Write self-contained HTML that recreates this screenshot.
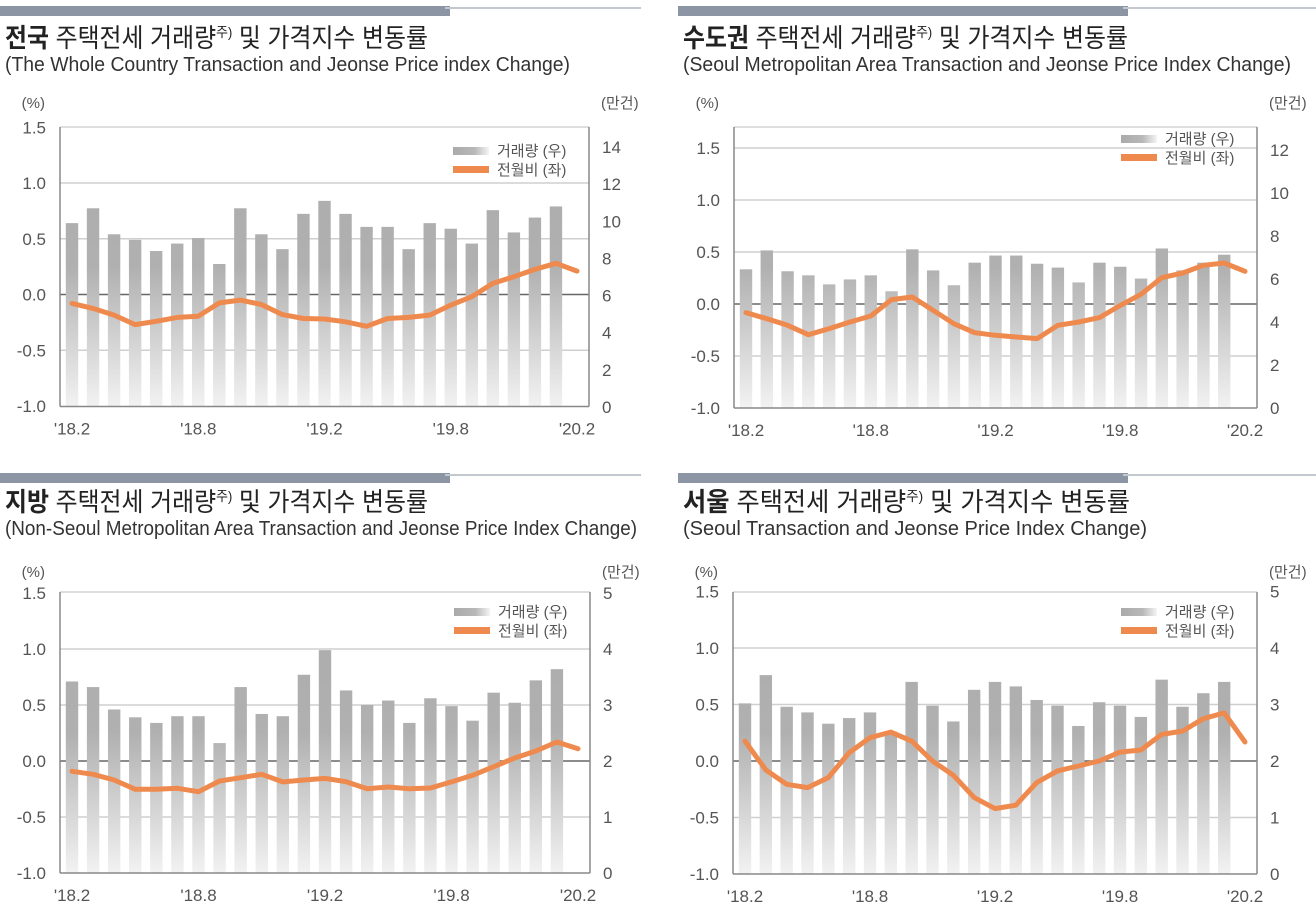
<!DOCTYPE html>
<html><head><meta charset="utf-8">
<style>
html,body{margin:0;padding:0;background:#fff;}
svg{display:block;font-family:"Liberation Sans Narrow","Liberation Sans","Noto Sans CJK KR",sans-serif;}
</style></head>
<body>
<svg id="chart" width="1316" height="923" viewBox="0 0 1316 923" xmlns="http://www.w3.org/2000/svg">
<defs>
<linearGradient id="legGrad" x1="0" x2="1" y1="0" y2="0"><stop offset="0" stop-color="#aaaaaa"/><stop offset="0.6" stop-color="#b8b8b8"/><stop offset="1" stop-color="#f4f4f4"/></linearGradient>
</defs>
</svg>
<script>
// ---- data (25 months '18.2 … '20.2; volume has 24 months) ----
const months = ["'18.2","'18.3","'18.4","'18.5","'18.6","'18.7","'18.8","'18.9","'18.10","'18.11","'18.12","'19.1","'19.2","'19.3","'19.4","'19.5","'19.6","'19.7","'19.8","'19.9","'19.10","'19.11","'19.12","'20.1","'20.2"];
const tickMonths = ["'18.2","'18.8","'19.2","'19.8","'20.2"];
const leftTicks = [1.5,1.0,0.5,0.0,-0.5,-1.0];
const rightTicks1 = [0,2,4,6,8,10,12,14];
const rightTicks2 = [0,2,4,6,8,10,12];
const rightTicks3 = [0,1,2,3,4,5];
const rightTicks4 = [0,1,2,3,4,5];
// volume (만건, right axis)
const volNation = [9.9,10.7,9.3,9.0,8.4,8.8,9.1,7.7,10.7,9.3,8.5,10.4,11.1,10.4,9.7,9.7,8.5,9.9,9.6,8.8,10.6,9.4,10.2,10.8];
const volCapital = [6.45,7.33,6.36,6.17,5.75,5.98,6.17,5.43,7.38,6.40,5.71,6.76,7.09,7.09,6.71,6.53,5.84,6.76,6.57,6.02,7.42,6.40,6.76,7.13];
const volRegion = [3.42,3.32,2.92,2.78,2.68,2.80,2.80,2.32,3.32,2.84,2.80,3.54,3.98,3.26,3.0,3.08,2.68,3.12,2.98,2.72,3.22,3.04,3.44,3.64];
const volSeoul = [3.02,3.52,2.96,2.86,2.66,2.76,2.86,2.52,3.40,2.98,2.70,3.26,3.40,3.32,3.08,2.98,2.62,3.04,2.98,2.78,3.44,2.96,3.20,3.40];
// month-on-month change (%, left axis)
const chgNation = [-0.08,-0.125,-0.185,-0.27,-0.24,-0.205,-0.195,-0.075,-0.05,-0.09,-0.18,-0.215,-0.22,-0.245,-0.285,-0.215,-0.205,-0.185,-0.095,-0.02,0.10,0.16,0.225,0.28,0.21];
const chgCapital = [-0.083,-0.141,-0.205,-0.295,-0.237,-0.173,-0.115,0.042,0.067,-0.061,-0.189,-0.276,-0.301,-0.317,-0.333,-0.205,-0.173,-0.131,-0.013,0.093,0.253,0.298,0.372,0.394,0.314];
const chgRegion = [-0.092,-0.119,-0.170,-0.253,-0.253,-0.244,-0.274,-0.179,-0.149,-0.119,-0.187,-0.170,-0.155,-0.185,-0.247,-0.232,-0.247,-0.241,-0.187,-0.128,-0.051,0.027,0.089,0.170,0.110];
const chgSeoul = [0.176,-0.079,-0.206,-0.235,-0.147,0.074,0.206,0.256,0.176,0,-0.126,-0.324,-0.421,-0.391,-0.191,-0.088,-0.044,0,0.079,0.097,0.235,0.265,0.374,0.426,0.168];

const NS="http://www.w3.org/2000/svg";
const svg=document.getElementById('chart');
const defs=svg.querySelector('defs');
function mk(tag,attrs,parent){const e=document.createElementNS(NS,tag);for(const k in attrs)e.setAttribute(k,attrs[k]);(parent||svg).appendChild(e);return e;}

const panels=[
 {id:'nation',bold:'전국',title:' 주택전세 거래량',sub:'(The Whole Country Transaction and Jeonse Price index Change)',subEnd:570,titleEnd:428,
  hdrY:6,titleY:47,subY:71,unitY:108,x0:60,x1:589,top:127,bot:406.5,lA:[-1,406],lB:[1,183],rA:[0,407],rB:[14,147],rt:rightTicks1,vol:volNation,chg:chgNation,grid15:false,legY:151},
 {id:'capital',bold:'수도권',title:' 주택전세 거래량',sub:'(Seoul Metropolitan Area Transaction and Jeonse Price Index Change)',subEnd:1291,titleEnd:1128,
  hdrY:6,titleY:47,subY:71,unitY:108,x0:734,x1:1257,top:127,bot:408,lA:[-1,408],lB:[1.5,148],rA:[0,408],rB:[12,150],rt:rightTicks2,vol:volCapital,chg:chgCapital,grid15:true,legY:139,right:true},
 {id:'region',bold:'지방',title:' 주택전세 거래량',sub:'(Non-Seoul Metropolitan Area Transaction and Jeonse Price Index Change)',subEnd:637,titleEnd:428,
  hdrY:473,titleY:511,subY:535,unitY:577,x0:60,x1:590,top:592,bot:873,lA:[-1,873],lB:[1,649],rA:[0,873],rB:[4,649],rt:rightTicks3,vol:volRegion,chg:chgRegion,grid15:false,legY:612},
 {id:'seoul',bold:'서울',title:' 주택전세 거래량',sub:'(Seoul Transaction and Jeonse Price Index Change)',subEnd:1147,titleEnd:1130,
  hdrY:473,titleY:511,subY:535,unitY:577,x0:733,x1:1257,top:592,bot:874,lA:[-1,874],lB:[1,648],rA:[0,874],rB:[4,648],rt:rightTicks4,vol:volSeoul,chg:chgSeoul,grid15:false,legY:612,right:true}
];

panels.forEach(p=>{
 const left = p.right?683:5;
 const g=mk('g',{});
 
 
 const yL=v=>p.lA[1]+(v-p.lA[0])*(p.lB[1]-p.lA[1])/(p.lB[0]-p.lA[0]);
 const yR=v=>p.rA[1]+(v-p.rA[0])*(p.rB[1]-p.rA[1])/(p.rB[0]-p.rA[0]);
 const step=(p.x1-p.x0-24)/(months.length-1);
 const xAt=i=>p.x0+12+i*step;
 const hb=mk('rect',{x:left-5,y:p.hdrY,width:450,height:10,fill:'#8b95a3'},g);
 
 
 const hl=mk('line',{x1:left+440,x2:left+636,y1:p.hdrY+2,y2:p.hdrY+2,stroke:'#c3c8cf','stroke-width':2},g);
 
 
 const t=mk('text',{x:left,y:p.titleY,'font-size':26,fill:'#222',textLength:p.titleEnd-left,lengthAdjust:'spacingAndGlyphs'},g);
 
 
 const tb=mk('tspan',{'font-weight':'bold'},t);tb.textContent=p.bold;
 const t2=mk('tspan',{},t);t2.textContent=p.title;
 const t3=mk('tspan',{'font-size':14,dy:-10},t);t3.textContent='주)';
 const t4=mk('tspan',{dy:10},t);t4.textContent=' 및 가격지수 변동률';
 const st=mk('text',{x:left,y:p.subY,'font-size':20,fill:'#333',textLength:p.subEnd-left,lengthAdjust:'spacingAndGlyphs'},g);
 st.textContent=p.sub;
 
 
 const u1=mk('text',{x:p.x0-15,y:p.unitY,'font-size':15,fill:'#555','text-anchor':'end'},g);u1.textContent='(%)';
 
 
 const u2=mk('text',{x:p.x1+12,y:p.unitY,'font-size':15,fill:'#555'},g);u2.textContent='(만건)';
 
 
 const gid='barGrad-'+p.id;
 const lg=mk('linearGradient',{id:gid,gradientUnits:'userSpaceOnUse',x1:0,x2:0,y1:p.top,y2:p.bot},defs);
 mk('stop',{offset:0,'stop-color':'#acacac'},lg);
 mk('stop',{offset:0.5,'stop-color':'#b0b0b0'},lg);
 mk('stop',{offset:1,'stop-color':'#f2f2f2'},lg);
 leftTicks.forEach(v=>{
   const y=yL(v);
   if(v===-1) return;
   if(v===1.5 && !p.grid15) return;
   const ln=mk('line',{x1:p.x0,x2:p.x1,y1:y,y2:y,stroke:v===0?'#666':'#cfcfcf','stroke-width':1.5},g);
   
   
 });
 const tbd=mk('line',{x1:p.x0,x2:p.x1,y1:p.top,y2:p.top,stroke:'#d4d4d4','stroke-width':1.5},g);
 
 
 p.vol.forEach((v,i)=>{
   const y=yR(v);
   const r=mk('rect',{x:xAt(i)-6.2,y:y,width:12.4,height:p.bot-y,fill:'url(#'+gid+')'},g);
   
   
 });
 const la=mk('line',{x1:p.x0,x2:p.x0,y1:p.top,y2:p.bot,stroke:'#888','stroke-width':1.5},g);
 
 
 const ra=mk('line',{x1:p.x1,x2:p.x1,y1:p.top,y2:p.bot,stroke:'#888','stroke-width':1.5},g);
 
 
 const ba=mk('line',{x1:p.x0,x2:p.x1,y1:p.bot,y2:p.bot,stroke:'#888','stroke-width':1.5},g);
 
 
 const pts=p.chg.map((v,i)=>xAt(i).toFixed(1)+','+yL(v).toFixed(1)).join(' ');
 const pl=mk('polyline',{points:pts,fill:'none',stroke:'#ef8a4f','stroke-width':5,'stroke-linejoin':'round','stroke-linecap':'round'},g);
 
 
 leftTicks.forEach(v=>{
   const tx=mk('text',{x:p.x0-14,y:yL(v)+6,'font-size':17,fill:'#555','text-anchor':'end'},g);
   tx.textContent=v.toFixed(1);
   
   
 });
 p.rt.forEach(v=>{
   const tx=mk('text',{x:p.x1+13,y:yR(v)+6,'font-size':17,fill:'#555'},g);
   tx.textContent=String(v);
   
   
 });
 tickMonths.forEach(m=>{
   const i=months.indexOf(m);
   const tx=mk('text',{x:xAt(i),y:p.bot+28,'font-size':17,fill:'#555','text-anchor':'middle'},g);
   tx.textContent=m;
   
   
 });
 const lx=p.x1-136;
 const s1=mk('rect',{x:lx,y:p.legY-4,width:36,height:8,fill:'url(#legGrad)'},g);
 
 
 const l1=mk('text',{x:lx+44,y:p.legY+5,'font-size':15,fill:'#555'},g);l1.textContent='거래량 (우)';
 
 
 const s2=mk('rect',{x:lx,y:p.legY+15,width:36,height:7,fill:'#ef8a4f'},g);
 
 
 const l2=mk('text',{x:lx+44,y:p.legY+24,'font-size':15,fill:'#555'},g);l2.textContent='전월비 (좌)';
 
 
});
</script>
</body></html>
